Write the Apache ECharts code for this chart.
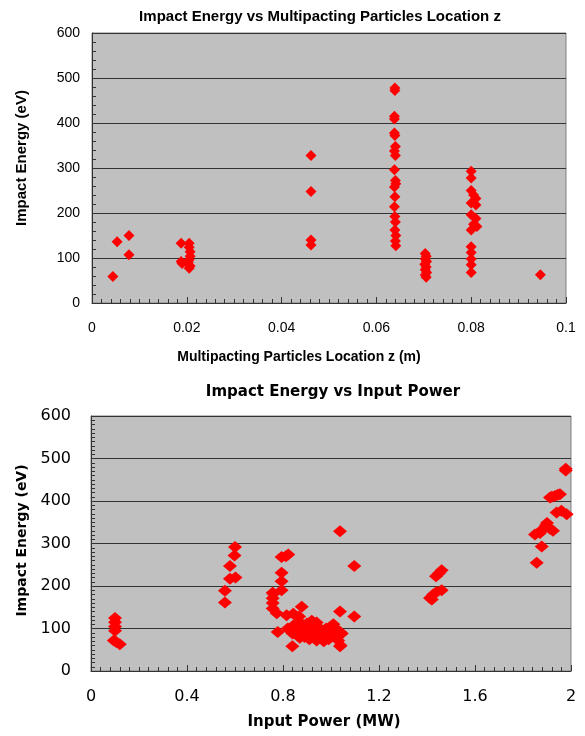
<!DOCTYPE html>
<html>
<head>
<meta charset="utf-8">
<script src="https://cdn.jsdelivr.net/npm/echarts@6/dist/echarts.min.js"></script>
<style>
  html,body{margin:0;padding:0;background:#fff;}
  #main{width:585px;height:736px;}
</style>
</head>
<body>
<div id="main"></div>
<script>
// top chart: impact energy vs location z (m)
var zEnergy = [
  [0.0044,59],[0.0053,136],[0.0078,150],[0.0078,107],
  [0.0188,133],[0.0188,92],[0.0190,88],[0.0205,133],[0.0205,124],[0.0207,114],[0.0207,104],[0.0205,96],[0.0203,90],[0.0207,82],[0.0205,77],
  [0.0462,328],[0.0462,248],[0.0462,140],[0.0462,129],
  [0.0639,478],[0.0639,472],[0.0638,415],[0.0638,409],[0.0638,378],[0.0639,372],[0.0640,348],[0.0638,338],[0.0640,328],[0.0638,296],
  [0.0640,272],[0.0641,265],[0.0638,258],[0.0639,236],[0.0638,214],[0.0639,192],[0.0640,180],[0.0639,162],[0.0641,150],[0.0640,138],[0.0641,127],
  [0.0703,110],[0.0705,104],[0.0703,98],[0.0706,92],[0.0702,86],[0.0705,80],[0.0703,74],[0.0706,68],[0.0703,62],[0.0705,57],
  [0.0800,293],[0.0800,278],[0.0800,250],[0.0805,240],[0.0810,232],[0.0800,222],[0.0810,218],[0.0800,196],[0.0810,188],[0.0805,175],
  [0.0812,170],[0.0800,162],[0.0800,125],[0.0800,112],[0.0800,98],[0.0800,85],[0.0800,68],
  [0.0946,63]
]

// bottom chart: impact energy vs input power (MW)
var powerEnergy = [
  [0.10,125],[0.10,115],[0.10,105],[0.10,95],[0.095,72],[0.105,68],[0.12,63],
  [0.558,189],[0.558,161],[0.579,247],[0.579,217],[0.600,292],[0.598,272],[0.602,220],
  [0.757,184],[0.757,171],[0.757,160],[0.757,147],[0.774,136],[0.794,268],[0.822,274],[0.812,270],[0.794,231],[0.794,211],[0.794,190],
  [0.815,131],[0.843,135],[0.867,128],[0.878,151],[0.778,92],[0.839,58],[0.76,182],
  [0.82,100],[0.83,95],[0.84,105],[0.84,88],[0.85,110],[0.85,95],[0.86,100],[0.86,85],[0.87,115],[0.87,92],[0.87,78],
  [0.88,105],[0.88,88],[0.89,98],[0.89,80],[0.90,112],[0.90,95],[0.90,84],[0.91,104],[0.91,90],[0.91,75],[0.92,118],
  [0.92,100],[0.92,86],[0.93,108],[0.93,95],[0.93,80],[0.94,114],[0.94,90],[0.94,72],[0.95,102],[0.95,85],[0.96,96],
  [0.96,78],[0.97,88],[0.97,70],[0.98,100],[0.98,82],[0.99,92],[0.99,75],[1.00,105],[1.00,85],[1.01,110],[1.01,95],
  [1.02,100],[1.02,80],[1.03,90],[1.03,72],[1.04,88],[1.04,60],
  [1.0375,329],[1.097,247],[1.0375,140],[1.097,128],[1.0375,92],[1.0375,58],[1.045,88],
  [1.4125,172],[1.42,168],[1.426,180],[1.44,186],[1.461,190],[1.4375,223],[1.461,237],[1.45,230],
  [1.857,255],[1.878,293],[1.85,321],[1.871,325],[1.896,343],[1.9125,335],[1.925,330],[1.90,348],[1.88,333],
  [1.9125,408],[1.933,412],[1.954,416],[1.92,410],[1.945,415],[1.94,373],[1.96,377],[1.982,369],[1.978,476],[1.978,472]
]

var topFont = 'Liberation Sans Narrow, Liberation Sans, Arial, sans-serif'
var topTick = 'Liberation Sans, Arial, sans-serif'
var botFont = 'DejaVu Sans, Verdana, sans-serif'

function axisBase(minorSplit){
  return {
    axisLine:{show:true,lineStyle:{color:'#333',width:1}},
    axisTick:{show:true,inside:true,length:6,lineStyle:{color:'#333'}},
    minorTick:{show:true,splitNumber:minorSplit,length:4,lineStyle:{color:'#333'}}
  }
}

var myChart = echarts.init(document.getElementById('main'))

myChart.setOption({
  animation:false,
  title:[
    {text:'Impact Energy vs Multipacting Particles Location z',left:315,top:4,textAlign:'center',
     textStyle:{fontFamily:topFont,fontSize:15,fontWeight:'bold',color:'#000'}},
    {text:'Impact Energy vs Input Power',left:328,top:380,textAlign:'center',
     textStyle:{fontFamily:botFont,fontSize:15,fontWeight:'bold',color:'#000'}}
  ],
  grid:[
    {left:92,top:33,width:474,height:270,show:true,backgroundColor:'#c0c0c0',borderColor:'#808080',borderWidth:1},
    {left:91,top:416,width:480,height:255,show:true,backgroundColor:'#c0c0c0',borderColor:'#808080',borderWidth:1}
  ],
  xAxis:[
    Object.assign(axisBase(10),{
      gridIndex:0,type:'value',min:0,max:0.1,interval:0.02,
      name:'Multipacting Particles Location z (m)',nameLocation:'middle',nameGap:47,
      nameTextStyle:{color:'#000',fontWeight:'bold',fontFamily:topFont,fontSize:14,padding:[0,60,0,0]},
      axisLabel:{color:'#000',fontFamily:topTick,fontSize:14,margin:18},
      splitLine:{show:false}
    }),
    Object.assign(axisBase(10),{
      gridIndex:1,type:'value',min:0,max:2,interval:0.4,
      name:'Input Power (MW)',nameLocation:'middle',nameGap:44,
      nameTextStyle:{color:'#000',fontWeight:'bold',fontFamily:botFont,fontSize:15,padding:[0,14,0,0]},
      axisLabel:{color:'#000',fontFamily:botFont,fontSize:16,margin:18},
      splitLine:{show:false}
    })
  ],
  yAxis:[
    Object.assign(axisBase(5),{
      gridIndex:0,type:'value',min:0,max:600,interval:100,
      name:'Impact Energy (eV)',nameLocation:'middle',nameGap:63,
      nameTextStyle:{color:'#000',fontWeight:'bold',fontFamily:topFont,fontSize:15,padding:[0,0,0,20]},
      axisLabel:{color:'#000',fontFamily:topTick,fontSize:14,margin:12},
      splitLine:{show:true,lineStyle:{color:'#333',width:1}}
    }),
    Object.assign(axisBase(10),{
      gridIndex:1,type:'value',min:0,max:600,interval:100,
      name:'Impact Energy (eV)',nameLocation:'middle',nameGap:61,
      nameTextStyle:{color:'#000',fontWeight:'bold',fontFamily:botFont,fontSize:14,padding:[0,0,0,6]},
      axisLabel:{color:'#000',fontFamily:botFont,fontSize:16,margin:20},
      splitLine:{show:true,lineStyle:{color:'#333',width:1}}
    })
  ],
  series:[
    {type:'scatter',xAxisIndex:0,yAxisIndex:0,data:zEnergy,symbol:'diamond',symbolSize:11,
     itemStyle:{color:'#ff0000',opacity:1}},
    {type:'scatter',xAxisIndex:1,yAxisIndex:1,data:powerEnergy,symbol:'diamond',symbolSize:[14,12],
     itemStyle:{color:'#ff0000',opacity:1}}
  ]
})
</script>
</body>
</html>
